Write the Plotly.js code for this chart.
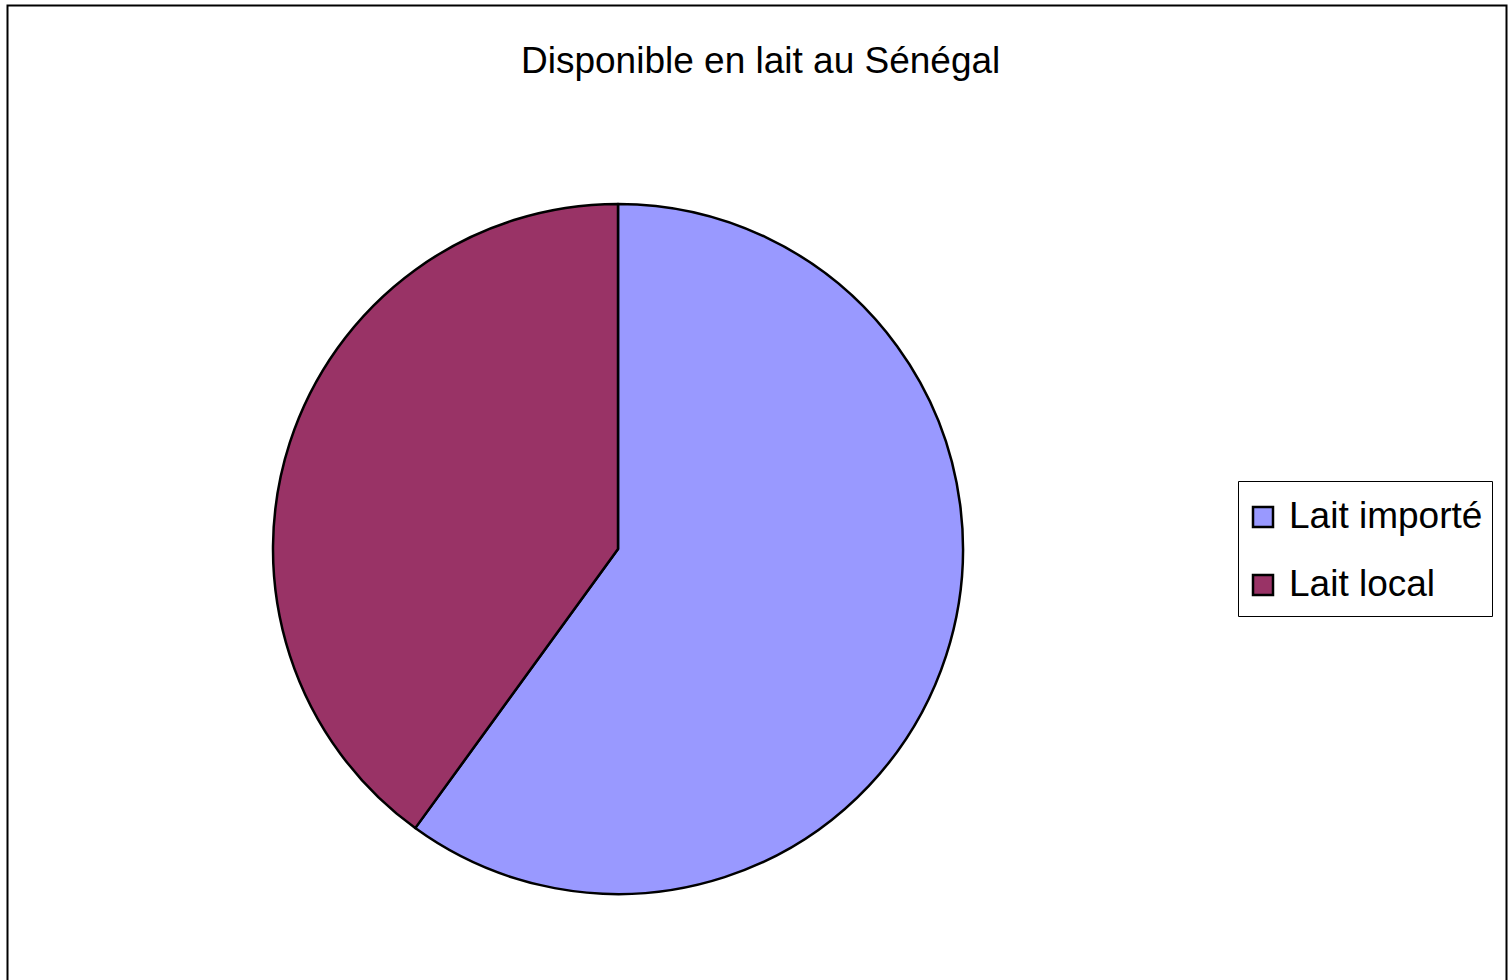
<!DOCTYPE html>
<html>
<head>
<meta charset="utf-8">
<script src="https://cdn.plot.ly/plotly-3.0.1.min.js"></script>
<style>html,body{margin:0;padding:0;background:#fff;}#chart{width:1508px;height:980px;}</style>
</head>
<body>
<div id="chart"></div>
<script>
const titleText = "Disponible en lait au Sénégal";
const labels = ["Lait importé", "Lait local"];
const values = [60, 40];
const colors = ["#9999FF", "#993366"];

const W = 1508, H = 980;
const px = x => x / W;
const py = y => 1 - y / H;

const shapes = [
  // outer chart frame
  {type: "rect", xref: "paper", yref: "paper", x0: px(7.5), x1: px(1506.5), y0: py(1010), y1: py(5.5),
   line: {color: "#000", width: 2}, fillcolor: "rgba(0,0,0,0)"},
  // legend box
  {type: "rect", xref: "paper", yref: "paper", x0: px(1238.5), x1: px(1492.5), y0: py(616.5), y1: py(481.5),
   line: {color: "#000", width: 1}, fillcolor: "#fff"}
];
const annotations = [
  {text: titleText, xref: "paper", yref: "paper", x: px(760.5), y: py(61), xanchor: "center", yanchor: "middle",
   showarrow: false, font: {family: "Liberation Sans, Arial, sans-serif", size: 37, color: "#000"}}
];
const rowY = [517, 585];
labels.forEach((lab, i) => {
  shapes.push({type: "rect", xref: "paper", yref: "paper", x0: px(1253), x1: px(1273), y0: py(rowY[i] + 10), y1: py(rowY[i] - 10),
    line: {color: "#000", width: 2.5}, fillcolor: colors[i]});
  annotations.push({text: lab, xref: "paper", yref: "paper", x: px(1287), y: py(rowY[i] - 2), xanchor: "left", yanchor: "middle",
    showarrow: false, font: {family: "Liberation Sans, Arial, sans-serif", size: 37, color: "#000"}});
});

const data = [{
  type: "pie",
  labels: labels,
  values: values,
  sort: false,
  direction: "clockwise",
  rotation: 0,
  textinfo: "none",
  hoverinfo: "label+percent",
  marker: {colors: colors, line: {color: "#000", width: 2.5}},
  domain: {x: [px(273), px(963)], y: [py(895), py(203)]},
  showlegend: false
}];

const layout = {
  width: W, height: H,
  margin: {l: 0, r: 0, t: 0, b: 0},
  paper_bgcolor: "#fff",
  showlegend: false,
  shapes: shapes,
  annotations: annotations
};

Plotly.newPlot("chart", data, layout, {displayModeBar: false, staticPlot: true});
</script>
</body>
</html>
